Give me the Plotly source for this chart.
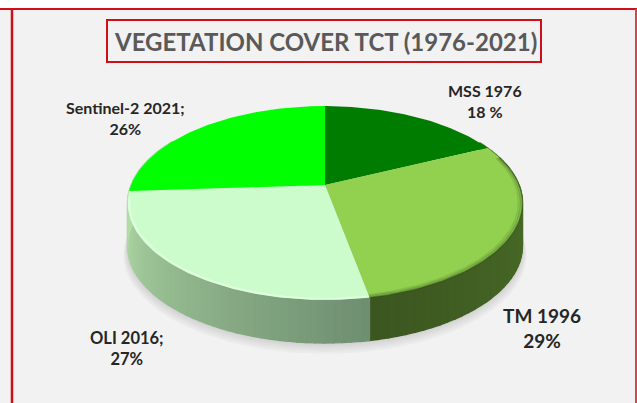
import numpy as np
import plotly.graph_objects as go

W, H = 637, 403

# data
LABELS = ["MSS 1976", "TM 1996", "OLI 2016", "Sentinel-2 2021"]
VALUES = [18, 29, 27, 26]
VALUE_TEXT = ["18 %", "29%", "27%", "26%"]
SEPARATOR = ["", "", ";", ";"]
TITLE = "VEGETATION COVER TCT (1976-2021)"

TOP_COLORS = ["#007d00", "#92d050", "#ccfccc", "#00ff00"]
# wall colour at the start and the end of each slice, clockwise
WALL_COLORS = [
    ((74, 112, 40), (74, 112, 40)),
    ((78, 118, 42), (60, 86, 32)),
    ((110, 142, 112), (178, 220, 168)),
    ((178, 220, 168), (178, 220, 168)),
]
LABEL_POS = [(485, 101, 16), (542, 328, 19), (127, 348, 16.5), (125, 118, 16)]

# perspective of the disc
CX, CY = 325, 185
A, B, K = 194, 93.6, 0.186
DEPTH = 43


def project(deg, r=1.0, drop=0.0):
    """Clockwise degrees from 12 o'clock to picture coordinates."""
    t = np.radians(deg)
    u, v = r * np.sin(t), r * np.cos(t)
    w = 1 + K * v
    return CX + A * u / w, CY - B * v / w + drop


def poly(x, y, color, line=None):
    return go.Scatter(
        x=list(x), y=list(y), mode="lines", fill="toself", fillcolor=color,
        line=dict(color=line or color, width=1.4 if line else 0),
        hoverinfo="skip", showlegend=False,
    )


def rim(a0, a1, r, color, width, drop=0.0):
    x, y = project(np.linspace(a0, a1, 80), r, drop)
    return go.Scatter(
        x=x, y=y, mode="lines", line=dict(color=color, width=width),
        hoverinfo="skip", showlegend=False,
    )


fig = go.Figure()

# soft shadow under the disc
full = np.linspace(0, 360, 181)
for i in range(6):
    x, y = project(full, 1.0 + i * 0.004, DEPTH + i * 1.6)
    fig.add_trace(poly(x, y, "rgba(120,120,120,0.05)"))

edges = np.concatenate([[0], np.cumsum(VALUES)]) * 3.6

# side wall, one gradient per slice
for i in range(len(VALUES)):
    steps = np.linspace(edges[i], edges[i + 1], 45)
    c0, c1 = WALL_COLORS[i]
    for a, b in zip(steps[:-1], steps[1:]):
        mid = (a + b) / 2
        if not 60 < mid < 300:
            continue
        f = (mid - edges[i]) / (edges[i + 1] - edges[i])
        rgb = [round(c0[k] + (c1[k] - c0[k]) * f) for k in range(3)]
        xt, yt = project(np.array([a, b]))
        xb, yb = project(np.array([b, a]), drop=DEPTH)
        col = f"rgb({rgb[0]},{rgb[1]},{rgb[2]})"
        fig.add_trace(poly([*xt, *xb, xt[0]], [*yt, *yb, yt[0]], col, col))

# top of the pie
for i in range(len(VALUES)):
    x, y = project(np.linspace(edges[i], edges[i + 1], 90))
    fig.add_trace(poly([CX, *x, CX], [CY, *y, CY], TOP_COLORS[i]))

# bevel along the front edge
for r, alpha in [(1.0, 0.55), (0.99, 0.3), (0.98, 0.14)]:
    fig.add_trace(rim(72, edges[2], r, f"rgba(50,80,25,{alpha})", 1.6))
fig.add_trace(rim(edges[2], 262, 0.992, "rgba(235,255,235,0.6)", 2))

# labels
annotations = [
    dict(
        x=p[0], y=p[1], xref="x", yref="y", showarrow=False, align="center",
        text=f"<b>{name}{sep}<br>{val}</b>",
        font=dict(family="Lato", size=p[2], color="#262626"),
    )
    for name, sep, val, p in zip(LABELS, SEPARATOR, VALUE_TEXT, LABEL_POS)
]
annotations.append(dict(
    x=325, y=41, xref="x", yref="y", showarrow=False,
    text=f"<b>{TITLE}</b>",
    font=dict(family="Lato", size=24, color="#595959"),
))

red = "#cf0f18"
shapes = [
    dict(type="rect", xref="x", yref="y", x0=0, x1=W, y0=0, y1=8,
         fillcolor="white", line_width=0, layer="below"),
    dict(type="line", xref="x", yref="y", x0=0, x1=W, y0=9, y1=9,
         line=dict(color=red, width=2)),
    dict(type="line", xref="x", yref="y", x0=12, x1=12, y0=9, y1=H,
         line=dict(color=red, width=2.5)),
    dict(type="line", xref="x", yref="y", x0=636, x1=636, y0=9, y1=H,
         line=dict(color="#d8434a", width=2)),
    dict(type="rect", xref="x", yref="y", x0=107, x1=541, y0=20, y1=62,
         line=dict(color=red, width=2)),
]

fig.update_layout(
    width=W, height=H, margin=dict(l=0, r=0, t=0, b=0),
    paper_bgcolor="#f2f2f2", plot_bgcolor="#f2f2f2",
    xaxis=dict(range=[0, W], visible=False, fixedrange=True),
    yaxis=dict(range=[H, 0], visible=False, fixedrange=True),
    annotations=annotations, shapes=shapes, showlegend=False,
)

# the page's default body margin would push the chart off the window corner
fig.write_html("out.html", config={"displayModeBar": False},
               post_script="document.body.style.margin='0';")
